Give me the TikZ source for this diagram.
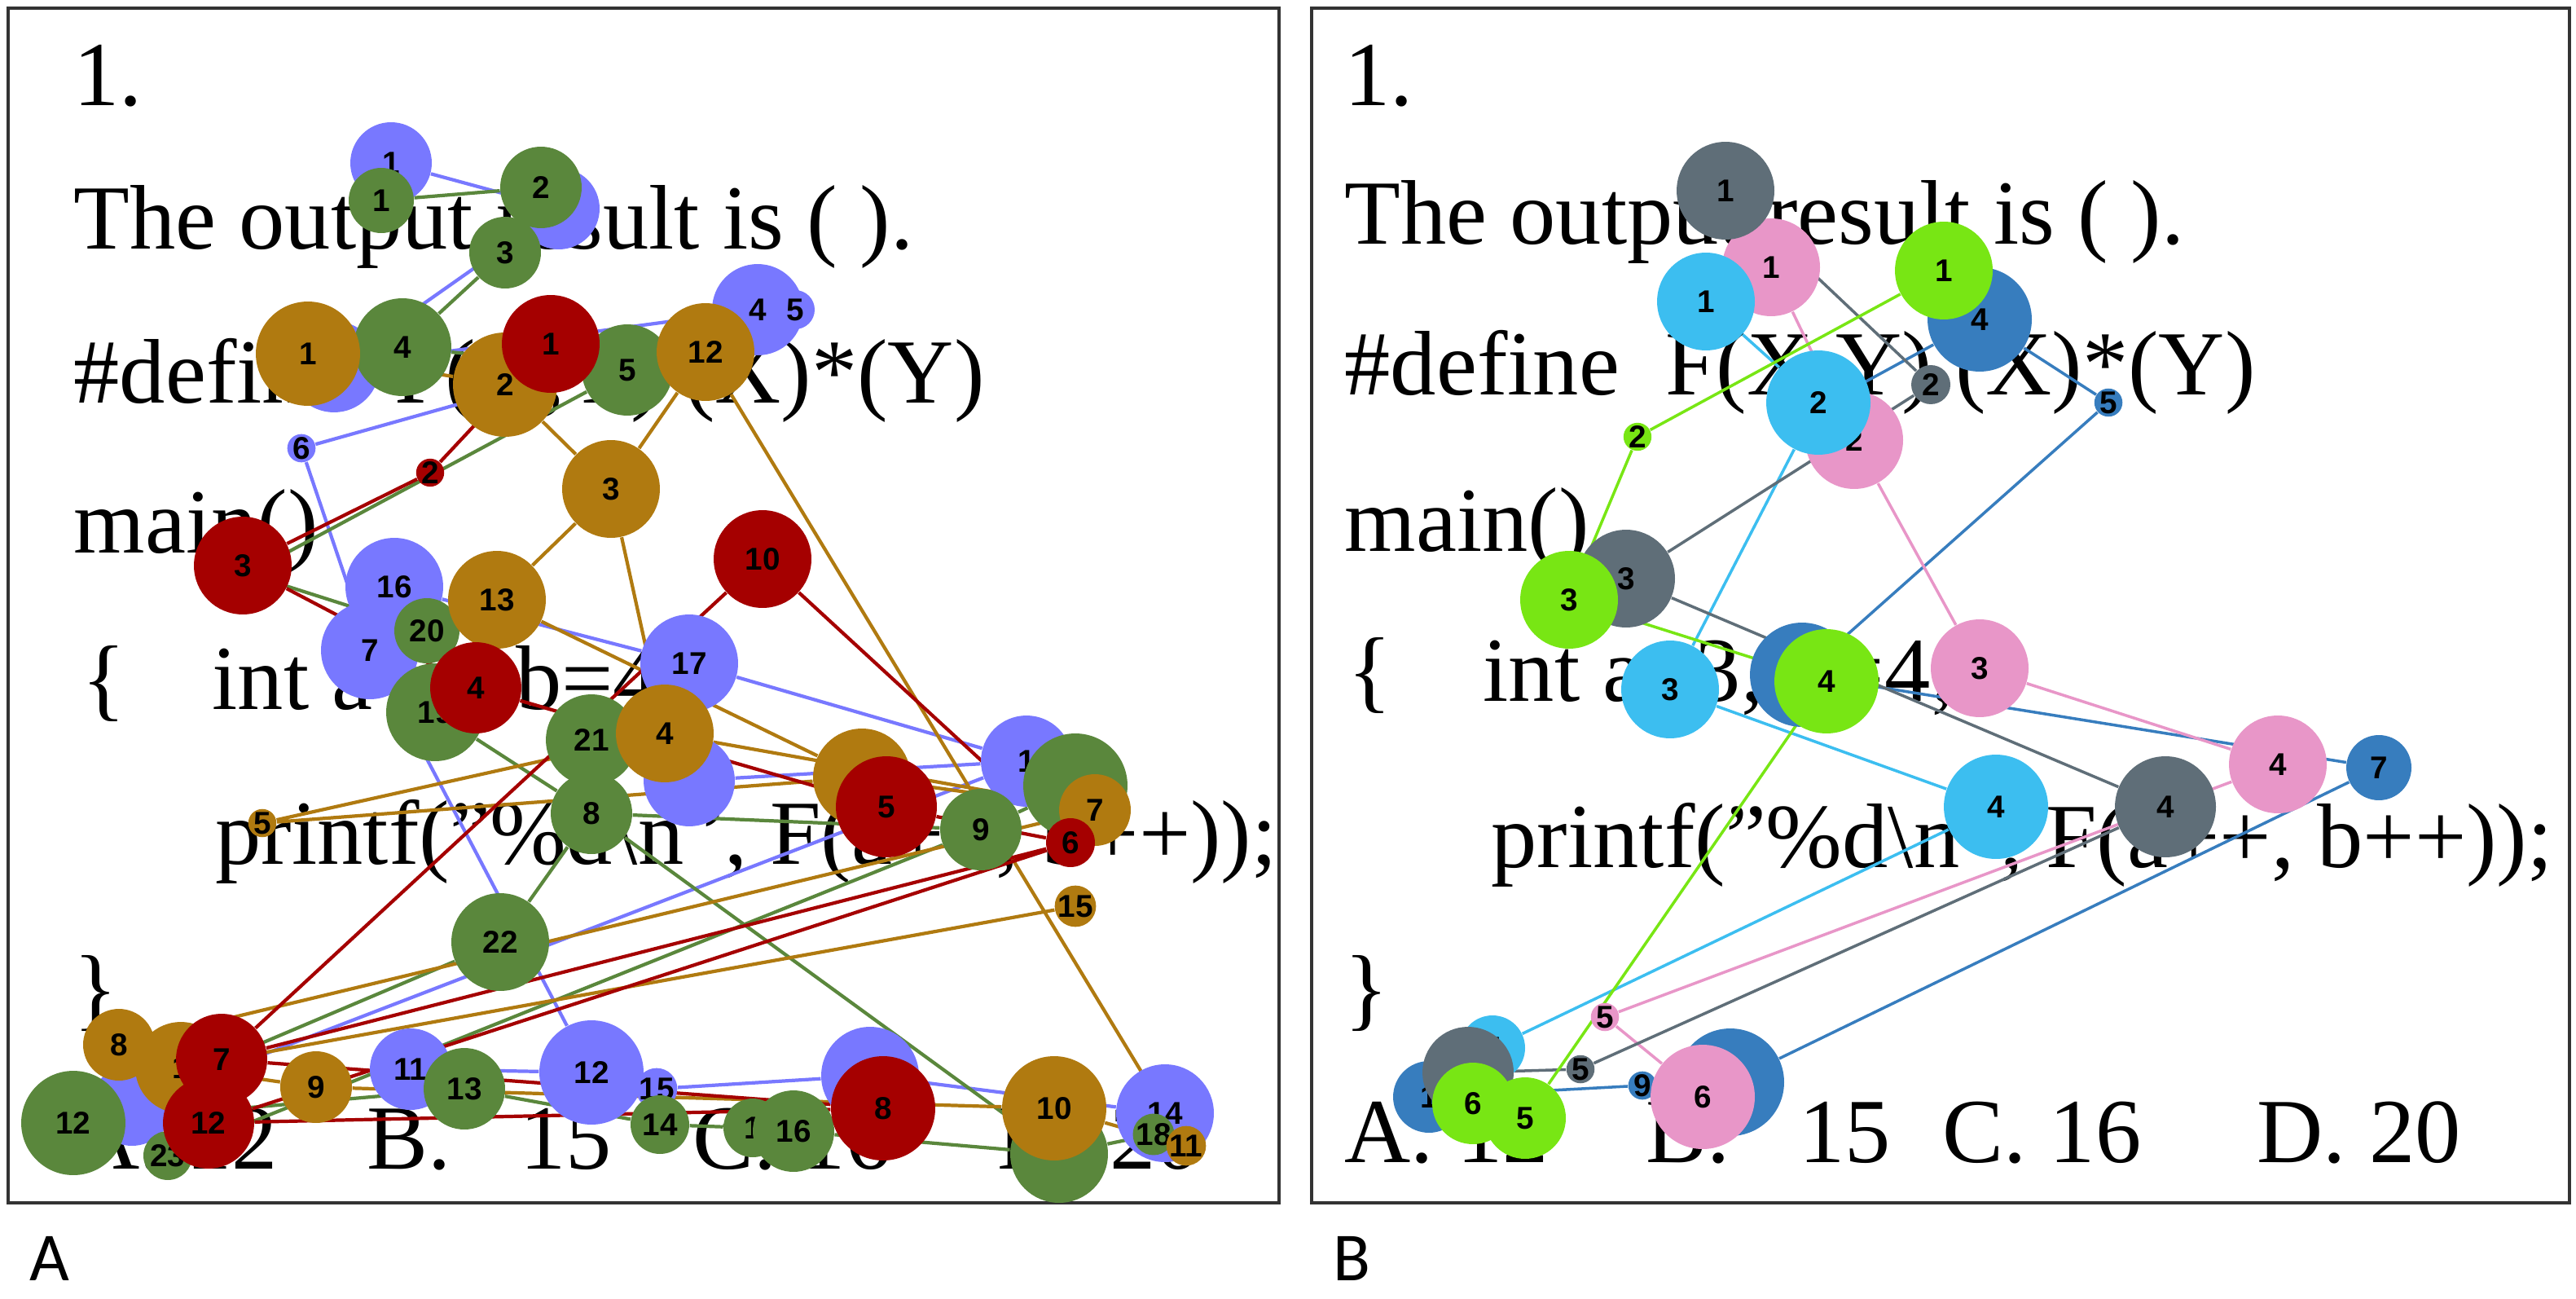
\documentclass[tikz,border=0pt]{standalone}
\usepackage{fontspec}
\setmainfont{Liberation Serif}
\newfontfamily\lblfont{Liberation Sans}
\newfontfamily\tagfont{Carlito}
\usetikzlibrary{backgrounds}
\definecolor{cbl}{RGB}{120,120,255}
\definecolor{cgr}{RGB}{90,135,60}
\definecolor{cbr}{RGB}{176,122,16}
\definecolor{crd}{RGB}{165,0,0}
\definecolor{kgy}{RGB}{95,110,120}
\definecolor{klb}{RGB}{60,190,240}
\definecolor{kpk}{RGB}{232,150,200}
\definecolor{kst}{RGB}{55,125,190}
\definecolor{klm}{RGB}{120,230,20}
\newcommand{\dt}[6]{\node[dot,fill=#1,minimum size=#2*0.04cm] (#3) at (#4,#5) {#6};}
\newcommand{\sq}{\char"22\relax}
\tikzset{
  dot/.style={circle,inner sep=0pt,text=black,font=\lblfont\bfseries\fontsize{11}{11}\selectfont},
  code/.style={anchor=base west,inner sep=0pt,font=\fontsize{32}{32}\selectfont},
  eA/.style={line width=1.2pt},
  eB/.style={line width=1pt},
  frame/.style={draw=black!80,line width=1pt}
}
\begin{document}
\begin{tikzpicture}[x=0.02cm,y=-0.02cm]
\useasboundingbox (0,0) rectangle (1581,797);
\draw[frame] (5,5) rectangle (785,738);
\draw[frame] (805,5) rectangle (1577,738);
\node[anchor=west,font=\tagfont\fontsize{24}{24}\selectfont] (tA) at (12,772) {A};
\node[anchor=west,font=\tagfont\fontsize{24}{24}\selectfont] (tB) at (812,772) {B};

\dt{cbl}{25}{bA1}{240}{100}{1}
\dt{cbl}{25}{bA2}{343}{128}{2}
\dt{cbl}{28}{bA3}{205}{225}{3}
\dt{cbl}{28}{bA4}{465}{190}{4}
\dt{cbl}{12}{bA5}{488}{190}{5}
\dt{cbl}{7}{bA6}{185}{275}{6}
\dt{cbl}{30}{bA16}{242}{360}{16}
\dt{cbl}{30}{bA7}{227}{399}{7}
\dt{cbl}{30}{bA17}{423}{407}{17}
\dt{cbl}{28}{bA8}{423}{479}{}
\dt{cbl}{28}{bA10}{630}{467}{1}
\dt{cbl}{25}{bAL}{81}{678}{}
\dt{cbl}{25}{bA11}{252}{656}{11}
\dt{cbl}{32}{bA12}{363}{658}{12}
\dt{cbl}{8}{bA15}{403}{668}{15}
\dt{cbl}{30}{bA9}{534}{660}{}
\dt{cbl}{30}{bA14}{715}{683}{14}
\dt{cgr}{20}{gA1}{234}{123}{1}
\dt{cgr}{25}{gA2}{332}{115}{2}
\dt{cgr}{22}{gA3}{310}{155}{3}
\dt{cgr}{30}{gA4}{247}{213}{4}
\dt{cgr}{28}{gA5}{385}{227}{5}
\dt{cgr}{20}{gA6}{152}{352}{}
\dt{cgr}{30}{gA19}{267}{437}{19}
\dt{cgr}{20}{gA20}{262}{387}{20}
\dt{cgr}{28}{gA21}{363}{454}{21}
\dt{cgr}{25}{gA8}{363}{499}{8}
\dt{cgr}{32}{gA10}{660}{482}{}
\dt{cgr}{25}{gA9}{602}{509}{9}
\dt{cgr}{30}{gA22}{307}{578}{22}
\dt{cgr}{32}{gA12}{45}{689}{12}
\dt{cgr}{15}{gA23}{103}{709}{23}
\dt{cgr}{25}{gA13}{285}{668}{13}
\dt{cgr}{18}{gA14}{405}{690}{14}
\dt{cgr}{18}{gA15}{462}{692}{1}
\dt{cgr}{25}{gA16}{487}{694}{16}
\dt{cgr}{30}{gA17}{650}{708}{}
\dt{cgr}{10}{gA18}{708}{696}{18}
\dt{cbr}{32}{oA1}{189}{217}{1}
\dt{cbr}{32}{oA2}{310}{236}{2}
\dt{cbr}{30}{oA12}{433}{216}{12}
\dt{cbr}{30}{oA3}{375}{300}{3}
\dt{cbr}{30}{oA13}{305}{368}{13}
\dt{cbr}{30}{oA4}{408}{450}{4}
\dt{cbr}{7}{oA5}{161}{505}{5}
\dt{cbr}{30}{oA6}{529}{477}{}
\dt{cbr}{22}{oA7}{672}{497}{7}
\dt{cbr}{22}{oA8}{73}{641}{8}
\dt{cbr}{28}{oA14}{111}{655}{1}
\dt{cbr}{22}{oA9}{194}{667}{9}
\dt{cbr}{32}{oA10}{647}{680}{10}
\dt{cbr}{12}{oA11}{728}{703}{11}
\dt{cbr}{4}{oA15}{660}{556}{15}
\dt{crd}{30}{rA1}{338}{211}{1}
\dt{crd}{7}{rA2}{264}{290}{2}
\dt{crd}{30}{rA3}{149}{347}{3}
\dt{crd}{30}{rA10}{468}{343}{10}
\dt{crd}{28}{rA4}{292}{422}{4}
\dt{crd}{31}{rA5}{544}{495}{5}
\dt{crd}{15}{rA6}{657}{517}{6}
\dt{crd}{28}{rA7}{136}{650}{7}
\dt{crd}{28}{rA12}{128}{689}{12}
\dt{crd}{32}{rA8}{542}{680}{8}

\dt{kst}{20}{sB2}{1116}{250}{}
\dt{kst}{32}{sB3}{1106}{414}{3}
\dt{kst}{32}{sB4}{1215}{196}{4}
\dt{kst}{7}{sB5}{1294}{247}{5}
\dt{kst}{20}{sB7}{1460}{471}{7}
\dt{kst}{33}{sB8}{1062}{664}{}
\dt{kst}{8}{sB9}{1008}{666}{9}
\dt{kst}{22}{sB1}{877}{673}{1}
\dt{kpk}{30}{pB1}{1087}{164}{1}
\dt{kpk}{30}{pB2}{1138}{270}{2}
\dt{kpk}{30}{pB3}{1215}{410}{3}
\dt{kpk}{30}{pB4}{1398}{469}{4}
\dt{kpk}{5}{pB5}{985}{624}{5}
\dt{kpk}{32}{pB6}{1045}{673}{6}
\dt{klb}{30}{lB1}{1047}{185}{1}
\dt{klb}{32}{lB2}{1116}{247}{2}
\dt{klb}{30}{lB3}{1025}{423}{3}
\dt{klb}{32}{lB4}{1225}{495}{4}
\dt{klb}{20}{lB5}{916}{643}{5}
\dt{kgy}{30}{kB1}{1059}{117}{1}
\dt{kgy}{12}{kB2}{1185}{236}{2}
\dt{kgy}{30}{kB3}{998}{355}{3}
\dt{kgy}{31}{kB4}{1329}{495}{4}
\dt{kgy}{7}{kB5}{970}{656}{5}
\dt{kgy}{28}{kB6}{901}{658}{}
\dt{klm}{30}{gB1}{1193}{166}{1}
\dt{klm}{5}{gB2}{1005}{268}{2}
\dt{klm}{30}{gB3}{963}{368}{3}
\dt{klm}{32}{gB4}{1121}{418}{4}
\dt{klm}{25}{gB6}{904}{677}{6}
\dt{klm}{25}{gB5}{936}{686}{5}

\begin{scope}[on background layer]
\node[code] (a0) at (45,65) {1.};
\node[code] (a1) at (45,153) {The output result is ( ).};
\node[code] (a2) at (45,247) {\#define\ \ F(X,Y)\ (X)*(Y)};
\node[code] (a3) at (45,339) {main()};
\node[code] (a4) at (50,435) {\{};
\node[code] (a5) at (130,435) {int a=3, b=4;};
\node[code] (a6) at (132,530) {printf(\sq\%d\textbackslash n\sq, F(a++, b++));};
\node[code] (a7) at (45,625) {\}};
\node[code] (a8) at (45,717) {A.\ 12};
\node[code] (a9) at (225,717) {B.\ \ \ 15};
\node[code] (a10) at (425,717) {C. 16};
\node[code] (a11) at (612,717) {D. 20};
\node[code] (b0) at (825,65) {1.};
\node[code] (b1) at (825,150) {The output result is ( ).};
\node[code] (b2) at (825,242) {\#define\ \ F(X,Y)\ (X)*(Y)};
\node[code] (b3) at (825,338) {main()};
\node[code] (b4) at (827,430) {\{};
\node[code] (b5) at (910,430) {int a=3, b=4;};
\node[code] (b6) at (915,532) {printf(\sq\%d\textbackslash n\sq, F(a++, b++));};
\node[code] (b7) at (825,625) {\}};
\node[code] (b8) at (825,713) {A. 12};
\node[code] (b9) at (1010,713) {B.\ \ \ 15};
\node[code] (b10) at (1192,713) {C. 16};
\node[code] (b11) at (1385,713) {D. 20};

\draw[eA,cbl] (bA1)--(bA2) (bA2)--(bA3) (bA3)--(bA4) (bA4)--(bA5) (bA5)--(bA6) (bA6)--(bA7)
  (bA7)--(bA16) (bA16)--(bA17) (bA17)--(bA10) (bA7)--(bA12) (bAL)--(bA10)
  (bA11)--(bA12) (bA12)--(bA15) (bA15)--(bA9) (bA9)--(bA14) (bA8)--(bA10);
\draw[eA,cgr] (gA1)--(gA2) (gA2)--(gA3) (gA3)--(gA4) (gA4)--(gA5) (gA5)--(gA6) (gA6)--(gA20)
  (gA20)--(gA19) (gA19)--(gA8) (gA21)--(gA8) (gA8)--(gA9) (gA9)--(gA10) (gA22)--(gA8)
  (gA8)--(gA17) (gA22)--(gA12) (gA12)--(gA13) (gA13)--(gA14) (gA14)--(gA15) (gA15)--(gA16)
  (gA16)--(gA17) (gA17)--(gA18) (gA23)--(gA9);
\draw[eA,cbr] (oA1)--(oA2) (oA2)--(oA3) (oA12)--(oA3) (oA3)--(oA4) (oA3)--(oA13) (oA13)--(oA6)
  (oA12)--(oA11) (oA4)--(oA5) (oA5)--(oA6) (oA6)--(oA7) (oA7)--(oA8) (oA8)--(oA14)
  (oA15)--(oA14) (oA14)--(oA9) (oA9)--(oA10) (oA10)--(oA11) (oA4)--(oA7);
\draw[eA,crd] (rA1)--(rA2) (rA2)--(rA3) (rA3)--(rA4) (rA4)--(rA5) (rA5)--(rA6) (rA6)--(rA7)
  (rA7)--(rA8) (rA7)--(rA10) (rA10)--(rA6) (rA6)--(rA12) (rA12)--(rA8);
\draw[eB,kst] (sB2)--(sB4) (sB4)--(sB5) (sB5)--(sB3) (sB3)--(sB7) (sB7)--(sB8) (sB8)--(sB9) (sB9)--(sB1);
\draw[eB,kpk] (pB1)--(pB2) (pB2)--(pB3) (pB3)--(pB4) (pB4)--(pB5) (pB5)--(pB6);
\draw[eB,klb] (lB1)--(lB2) (lB2)--(lB3) (lB3)--(lB4) (lB4)--(lB5);
\draw[eB,kgy] (kB1)--(kB2) (kB2)--(kB3) (kB3)--(kB4) (kB4)--(kB5) (kB5)--(kB6);
\draw[eB,klm] (gB1)--(gB2) (gB2)--(gB3) (gB3)--(gB4) (gB4)--(gB5) (gB5)--(gB6);
\end{scope}
\end{tikzpicture}
\end{document}
